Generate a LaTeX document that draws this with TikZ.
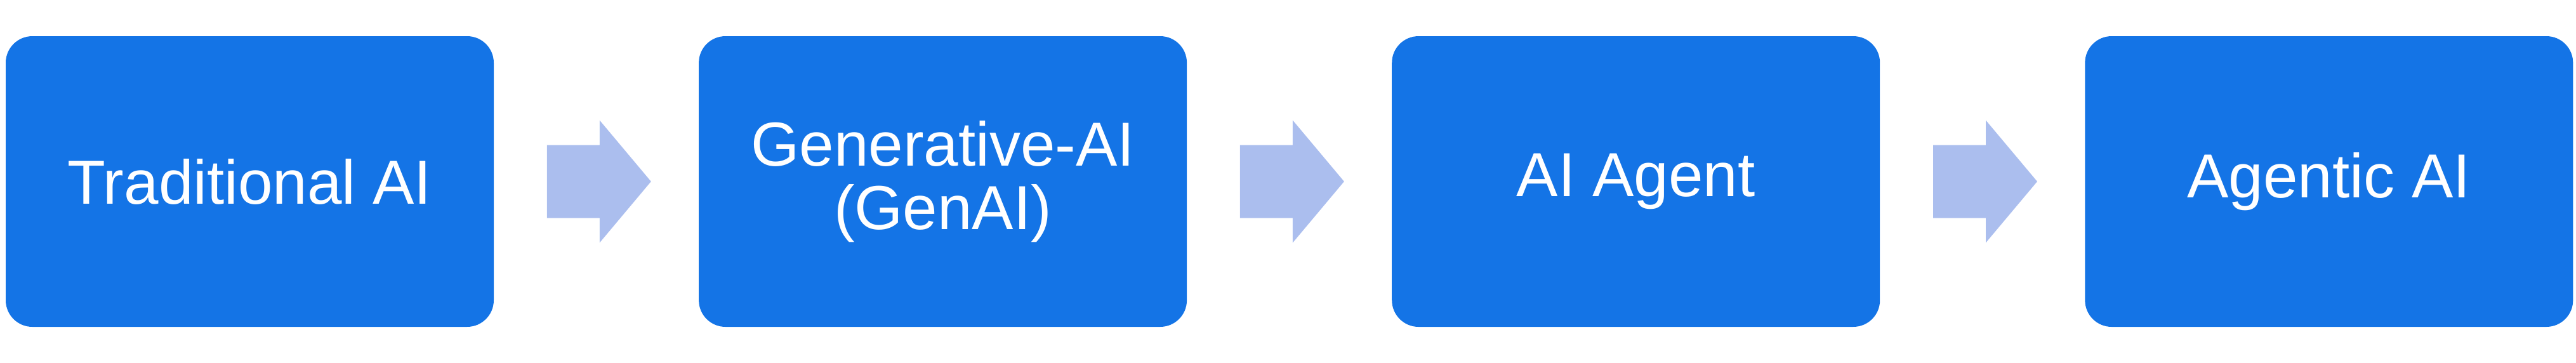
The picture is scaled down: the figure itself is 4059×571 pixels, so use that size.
\documentclass[tikz,border=0pt]{standalone}
\usepackage{fontspec}
\setmainfont{Liberation Sans}
\usetikzlibrary{positioning,calc}
\definecolor{stageblue}{HTML}{1474E6}
\definecolor{flowblue}{HTML}{ABBEEE}
\begin{document}
\begin{tikzpicture}[x=0.25pt,y=0.25pt,node distance=80.375pt,stage/.style={fill=stageblue,rounded corners=10.5pt,minimum width=192.25pt,minimum height=114.5pt,inner sep=0pt,align=center,text=white,font=\fontsize{24.5}{25}\selectfont},flow/.style={fill=flowblue}]

		\useasboundingbox (0,0) rectangle (4059,571);

		\node[stage] (trad) at (393.5,285) {Traditional AI};
		\node[stage] (gen) [right=of trad] {Generative-AI\\(GenAI)};
		\node[stage] (agent) [right=of gen] {AI Agent};
		\node[stage] (agentic) [right=of agent] {Agentic AI};

		% block arrows between the stages
		\foreach \a/\b in {trad/gen,gen/agent,agent/agentic}
		\fill[flow] ($(\a.east)+(83,-57.5)$) -- ++(83,0) -- ++(0,-39) -- ++(81,96.5) -- ++(-81,96.5) -- ++(0,-39) -- ++(-83,0) -- cycle;

\end{tikzpicture}
\end{document}
